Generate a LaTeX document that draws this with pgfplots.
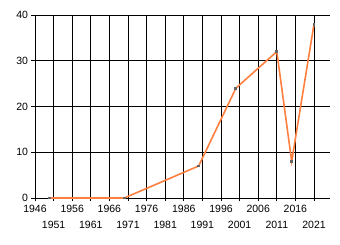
\documentclass[border=0pt]{standalone}
\usepackage{fontspec}
\setmainfont{Liberation Sans}
\usepackage{pgfplots}
\pgfplotsset{compat=1.18}
\definecolor{lineorange}{RGB}{255,127,63}
\definecolor{markgray}{RGB}{100,100,100}
\begin{document}
\begin{tikzpicture}
\begin{axis}[
  scale only axis,
  width=295pt, height=183pt,
  xmin=1946, xmax=2025.3,
  ymin=0, ymax=40,
  axis x line*=bottom,
  axis y line*=left,
  axis line style={black, line width=0.9pt, -},
  xtick={1946,1956,1966,1976,1986,1996,2006,2016},
  extra x ticks={1951,1961,1971,1981,1991,2001,2011,2021},
  extra x tick style={grid=major, tick label style={yshift=-16pt}},
  ytick={0,10,20,30,40},
  grid=major,
  major grid style={black, line width=0.9pt},
  tick align=outside,
  major tick length=3.5pt,
  tick style={black, line width=0.9pt},
  x tick label style={/pgf/number format/1000 sep={}},
  /pgf/number format/assume math mode=true,
  tick label style={font=\fontsize{10.5}{12}\selectfont, text=black},
  clip=false,
]
\addplot[color=lineorange, line width=1.6pt, mark=square*, mark size=0.9pt,
  mark options={fill=markgray, draw=markgray, line width=0pt}]
  coordinates {(1950,0) (1970,0) (1990,7) (2000,24) (2011,32) (2015,8) (2021,38)};
\path (rel axis cs:-35/295,-47/183) rectangle (rel axis cs:1+10/295,1+15/183);
\end{axis}
\end{tikzpicture}
\end{document}
